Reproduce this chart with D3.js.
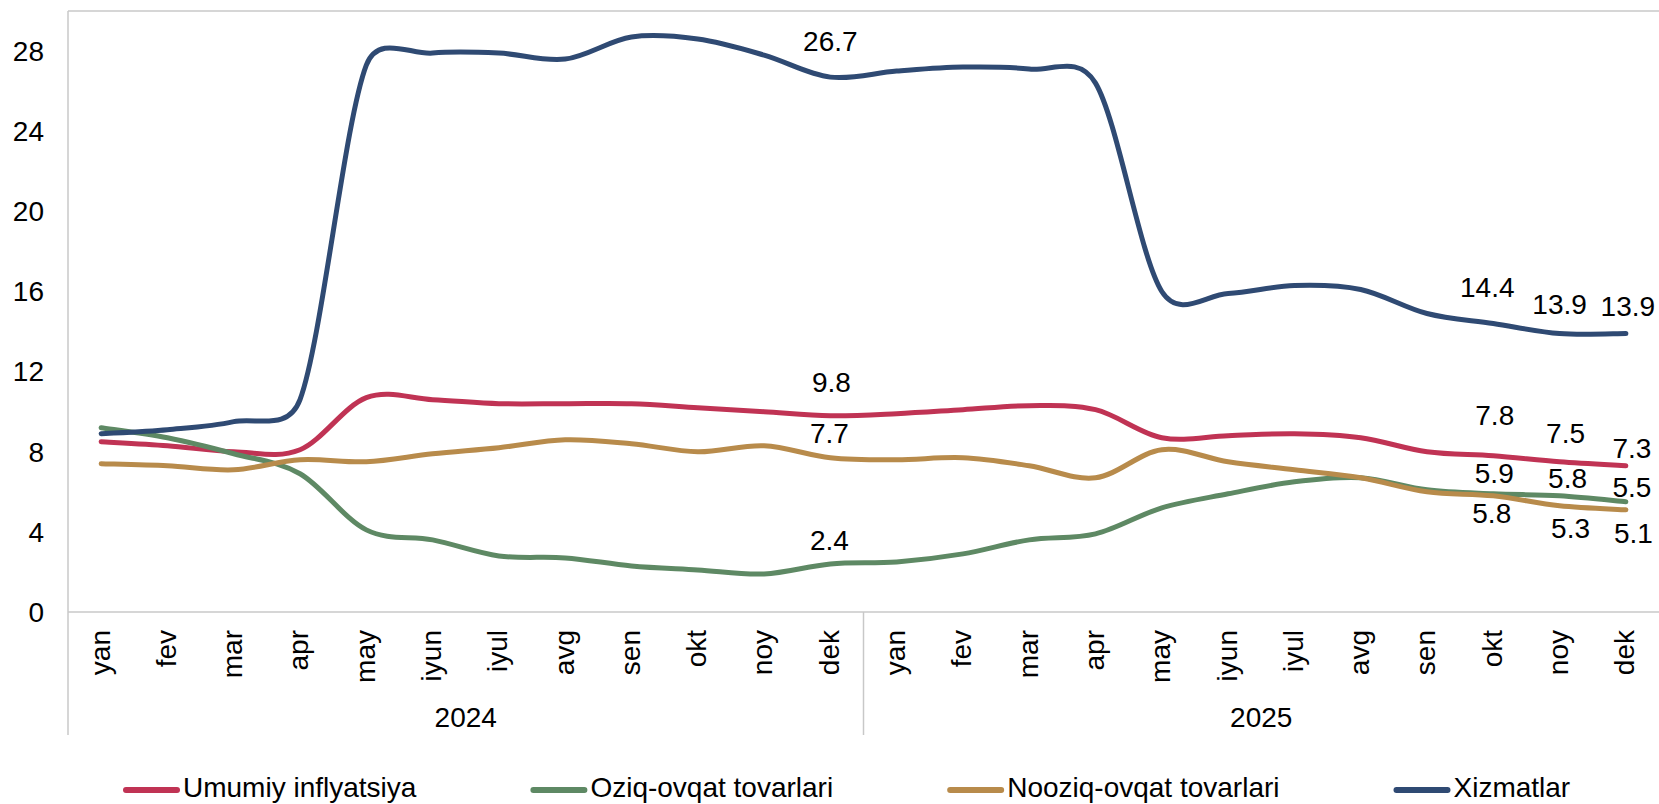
<!DOCTYPE html>
<html>
<head>
<meta charset="utf-8">
<script src="https://cdn.jsdelivr.net/npm/d3@7"></script>
<style>
  body { margin: 0; background: #fff; }
  text { font-family: "Liberation Sans", Arial, sans-serif; fill: #000; }
</style>
</head>
<body>
<div id="chart"></div>
<script>
// months of each year, two years on the axis
var months = ["yan", "fev", "mar", "apr", "may", "iyun", "iyul", "avg", "sen", "okt", "noy", "dek"];
var years = ["2024", "2025"];

var seriesNames = ["Umumiy inflyatsiya", "Oziq-ovqat tovarlari", "Nooziq-ovqat tovarlari", "Xizmatlar"];

// yillik inflyatsiya, %  (yan 2024 ... dek 2025)
var umumiy   = [8.5, 8.3, 8.0, 8.1, 10.7, 10.6, 10.4, 10.4, 10.4, 10.2, 10.0, 9.8,
                9.9, 10.1, 10.3, 10.1, 8.7, 8.8, 8.9, 8.7, 8.0, 7.8, 7.5, 7.3];
var oziq     = [9.2, 8.7, 7.9, 6.9, 4.1, 3.6, 2.8, 2.7, 2.3, 2.1, 1.9, 2.4,
                2.5, 2.9, 3.6, 3.9, 5.2, 5.9, 6.5, 6.7, 6.1, 5.9, 5.8, 5.5];
var nooziq   = [7.4, 7.3, 7.1, 7.6, 7.5, 7.9, 8.2, 8.6, 8.4, 8.0, 8.3, 7.7,
                7.6, 7.7, 7.3, 6.7, 8.1, 7.5, 7.1, 6.7, 6.0, 5.8, 5.3, 5.1];
var xizmatlar = [8.9, 9.1, 9.5, 10.6, 27.3, 27.9, 27.9, 27.6, 28.7, 28.6, 27.8, 26.7,
                 27.0, 27.2, 27.1, 26.4, 16.0, 15.9, 16.3, 16.1, 14.9, 14.4, 13.9, 13.9];

var yTicks = [0, 4, 8, 12, 16, 20, 24, 28];

// which points get a value label (series index, point index)
var labelPoints = [[3, 11], [0, 11], [2, 11], [1, 11],
                   [3, 21], [3, 22], [3, 23],
                   [0, 21], [0, 22], [0, 23],
                   [1, 21], [1, 22], [1, 23],
                   [2, 21], [2, 22], [2, 23]];

//************************************************************
// layout
//************************************************************
var colors = ["#C03354", "#5E8964", "#B88B4B", "#2F4A73"];
var allSeries = [umumiy, oziq, nooziq, xizmatlar];

// label offsets from the point (same order as labelPoints)
var labelOffsets = [[0, -26.5], [1, -23.5], [-1, -14.5], [-1, -14],
                    [-6, -26.5], [0, -19.5], [2, -17.5],
                    [1.5, -30.5], [6, -19], [6, -7.5],
                    [1, -10.5], [8, -7.5], [6, -5],
                    [-1.5, 27.5], [11, 32.5], [7.5, 33]];

var W = 1659, H = 804;
var plotLeft = 68, plotTop = 11, plotRight = 1659, plotBottom = 612, axisBottom = 735;
var fontSize = 28;

var svg = d3.select("#chart").append("svg")
    .attr("width", W)
    .attr("height", H);

var categories = [];
years.forEach(function(yr) {
  months.forEach(function(m) { categories.push(yr + "-" + m); });
});

var x = d3.scaleBand()
    .domain(categories)
    .range([plotLeft, plotRight]);

var y = d3.scaleLinear()
    .domain([0, 30])
    .range([plotBottom, plotTop]);

var gridColor = "#C8C8C8";

// plot border (top + left) and category axis
svg.append("line")
    .attr("x1", plotLeft).attr("x2", plotRight)
    .attr("y1", y(30)).attr("y2", y(30))
    .attr("stroke", gridColor).attr("stroke-width", 1.5);

svg.append("line")
    .attr("x1", plotLeft).attr("x2", plotLeft)
    .attr("y1", y(30)).attr("y2", axisBottom)
    .attr("stroke", gridColor).attr("stroke-width", 1.5);

svg.append("line")
    .attr("x1", plotLeft).attr("x2", plotRight)
    .attr("y1", y(0)).attr("y2", y(0))
    .attr("stroke", gridColor).attr("stroke-width", 1.5);

// separators between years
years.forEach(function(yr, k) {
  if (k === 0) return;
  var sx = x(yr + "-" + months[0]);
  svg.append("line")
      .attr("x1", sx).attr("x2", sx)
      .attr("y1", y(0)).attr("y2", axisBottom)
      .attr("stroke", gridColor).attr("stroke-width", 1.5);
});

// y axis labels
svg.append("g")
  .selectAll("text")
  .data(yTicks)
  .enter().append("text")
    .attr("x", 44)
    .attr("y", function(d) { return y(d); })
    .attr("dy", "0.35em")
    .attr("text-anchor", "end")
    .style("font-size", fontSize + "px")
    .text(function(d) { return d; });

// month labels (rotated)
svg.append("g")
  .selectAll("text")
  .data(categories)
  .enter().append("text")
    .attr("transform", function(d) {
      return "translate(" + (x(d) + x.bandwidth() / 2) + "," + 630 + ") rotate(-90)";
    })
    .attr("dy", "0.3em")
    .attr("text-anchor", "end")
    .style("font-size", fontSize + "px")
    .text(function(d) { return d.split("-")[1]; });

// year labels
svg.append("g")
  .selectAll("text")
  .data(years)
  .enter().append("text")
    .attr("x", function(yr) {
      var a = x(yr + "-" + months[0]);
      var b = x(yr + "-" + months[months.length - 1]) + x.bandwidth();
      return (a + b) / 2;
    })
    .attr("y", 727)
    .attr("text-anchor", "middle")
    .style("font-size", fontSize + "px")
    .text(function(d) { return d; });

//************************************************************
// Excel-like smoothing: cardinal spline with control arms capped
// at half the segment length
//************************************************************
function excelCurve(context) {
  var pts = [];
  function dist(a, b) { return Math.hypot(b[0] - a[0], b[1] - a[1]); }
  return {
    areaStart: function() {},
    areaEnd: function() {},
    lineStart: function() { pts = []; },
    point: function(px, py) { pts.push([+px, +py]); },
    lineEnd: function() {
      var n = pts.length;
      if (!n) return;
      context.moveTo(pts[0][0], pts[0][1]);
      for (var i = 0; i < n - 1; i++) {
        var p0 = pts[Math.max(i - 1, 0)], p1 = pts[i], p2 = pts[i + 1], p3 = pts[Math.min(i + 2, n - 1)];
        var d12 = dist(p1, p2), d02 = dist(p0, p2), d13 = dist(p1, p3);
        var f1 = d02 ? Math.min(1 / 6, d12 / (2 * d02)) : 0;
        var f2 = d13 ? Math.min(1 / 6, d12 / (2 * d13)) : 0;
        context.bezierCurveTo(
          p1[0] + f1 * (p2[0] - p0[0]), p1[1] + f1 * (p2[1] - p0[1]),
          p2[0] - f2 * (p3[0] - p1[0]), p2[1] - f2 * (p3[1] - p1[1]),
          p2[0], p2[1]);
      }
    }
  };
}

var line = d3.line()
    .x(function(d, i) { return x(categories[i]) + x.bandwidth() / 2; })
    .y(function(d) { return y(d); })
    .curve(excelCurve);

svg.append("g")
  .selectAll("path")
  .data(allSeries)
  .enter().append("path")
    .attr("d", line)
    .attr("fill", "none")
    .attr("stroke", function(d, i) { return colors[i]; })
    .attr("stroke-width", 5)
    .attr("stroke-linecap", "round")
    .attr("stroke-linejoin", "round");

// value labels
svg.append("g")
  .selectAll("text")
  .data(labelPoints)
  .enter().append("text")
    .attr("x", function(d, k) { return x(categories[d[1]]) + x.bandwidth() / 2 + labelOffsets[k][0]; })
    .attr("y", function(d, k) { return y(allSeries[d[0]][d[1]]) + labelOffsets[k][1]; })
    .attr("text-anchor", "middle")
    .style("font-size", fontSize + "px")
    .text(function(d) { return d3.format(".1f")(allSeries[d[0]][d[1]]); });

//************************************************************
// legend
//************************************************************
var legend = svg.append("g");
var lx = 123, ly = 790;
seriesNames.forEach(function(name, i) {
  legend.append("line")
      .attr("x1", lx + 3).attr("x2", lx + 54)
      .attr("y1", ly).attr("y2", ly)
      .attr("stroke", colors[i])
      .attr("stroke-width", 6)
      .attr("stroke-linecap", "round");
  var t = legend.append("text")
      .attr("x", lx + 60)
      .attr("y", 797)
      .style("font-size", fontSize + "px")
      .text(name);
  lx = lx + 60 + t.node().getComputedTextLength() + 114;
});
</script>
</body>
</html>
